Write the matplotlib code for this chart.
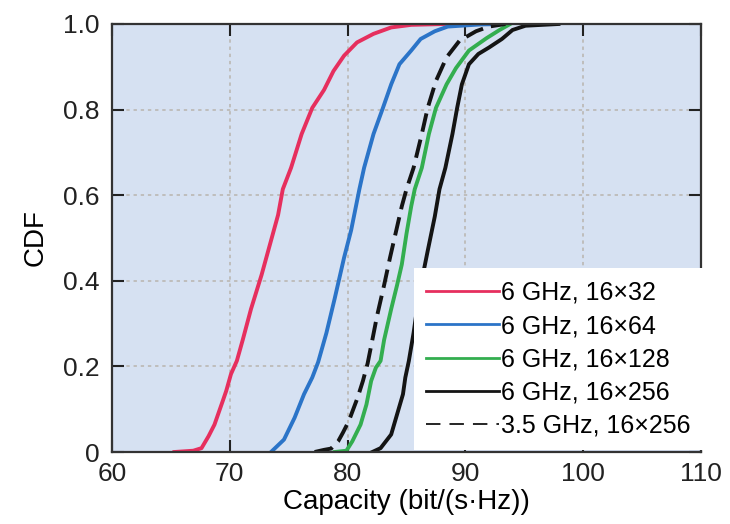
import matplotlib
matplotlib.use("Agg")
import matplotlib.pyplot as plt
from matplotlib.lines import Line2D

plt.rcParams['font.family'] = ['Liberation Sans', 'DejaVu Sans']

# 6 GHz, 16x32
red_x = [65.3, 66.9, 67.6, 68.2, 68.7, 69.4, 69.7, 70.1, 70.6, 71.1, 71.8, 72.7, 73.5, 74.1, 74.5, 75.2, 76.1,
         77.0, 78.0, 78.8, 79.7, 80.8, 82.2, 83.7, 85.4, 88.2]
red_y = [0.0, 0.003, 0.009, 0.037, 0.064, 0.119, 0.143, 0.182, 0.213, 0.262, 0.334, 0.414, 0.494, 0.554, 0.614,
         0.664, 0.743, 0.804, 0.846, 0.89, 0.926, 0.957, 0.977, 0.992, 0.998, 1.0]
# 6 GHz, 16x64
blue_x = [73.5, 74.6, 75.5, 76.3, 77.0, 77.5, 78.2, 78.9, 79.3, 79.7, 80.3, 81.0, 81.4, 82.2, 83.0, 83.7, 84.4,
          85.4, 86.2, 87.4, 88.5, 91.3, 93.5]
blue_y = [0.0, 0.029, 0.08, 0.135, 0.174, 0.21, 0.278, 0.358, 0.406, 0.454, 0.518, 0.614, 0.664, 0.743, 0.804,
          0.859, 0.906, 0.938, 0.965, 0.983, 0.994, 0.999, 1.0]
# 6 GHz, 16x128
green_x = [78.9, 79.9, 80.4, 81.1, 81.6, 82.0, 82.4, 82.8, 83.1, 83.7, 84.2, 84.6, 85.0, 85.4, 85.7, 86.3, 86.9,
           87.5, 88.4, 89.2, 90.3, 91.8, 92.9, 93.8]
green_y = [0.0, 0.003, 0.025, 0.064, 0.111, 0.166, 0.197, 0.213, 0.262, 0.334, 0.39, 0.438, 0.51, 0.574, 0.614,
           0.664, 0.743, 0.804, 0.859, 0.897, 0.938, 0.967, 0.986, 1.0]
# 6 GHz, 16x256
black_x = [82.1, 82.8, 83.7, 84.2, 84.7, 84.9, 85.2, 85.6, 86.1, 86.8, 87.4, 87.8, 88.3, 88.9, 89.3, 89.7, 90.3,
           91.1, 92.0, 93.1, 94.0, 95.1, 97.9]
black_y = [0.0, 0.009, 0.041, 0.088, 0.135, 0.174, 0.213, 0.278, 0.374, 0.47, 0.55, 0.614, 0.664, 0.743, 0.804,
           0.859, 0.906, 0.93, 0.945, 0.965, 0.986, 0.996, 1.0]
# 3.5 GHz, 16x256
dash_x = [77.2, 78.0, 78.6, 79.2, 79.6, 80.1, 80.85, 81.3, 81.7, 82.1, 82.5, 83.1, 83.6, 84.2, 84.6, 85.0, 85.6,
          86.3, 86.8, 87.5, 88.4, 89.5, 90.9, 92.0, 93.4]
dash_y = [0.0, 0.005, 0.008, 0.025, 0.045, 0.072, 0.127, 0.166, 0.207, 0.262, 0.318, 0.39, 0.454, 0.526, 0.574,
          0.614, 0.664, 0.743, 0.804, 0.867, 0.922, 0.961, 0.983, 0.994, 1.0]

labels = ["6 GHz, 16×32", "6 GHz, 16×64", "6 GHz, 16×128", "6 GHz, 16×256", "3.5 GHz, 16×256"]
xticks = [60, 70, 80, 90, 100, 110]
yticks = [0, 0.2, 0.4, 0.6, 0.8, 1.0]
yticklabels = ["0", "0.2", "0.4", "0.6", "0.8", "1.0"]

RED, BLUE, GREEN, BLACK = '#e62f5e', '#2b74c8', '#33ae4f', '#141414'

fig = plt.figure(figsize=(7.3, 5.24), dpi=100)
ax = fig.add_axes([0.1534, 0.1374, 0.8069, 0.8168])
ax.set_facecolor('#d6e1f2')

lw = 2.8
ax.plot(red_x, red_y, color=RED, lw=lw)
ax.plot(blue_x, blue_y, color=BLUE, lw=lw)
ax.plot(green_x, green_y, color=GREEN, lw=lw)
ax.plot(black_x, black_y, color=BLACK, lw=lw)
ax.plot(dash_x, dash_y, color=BLACK, lw=lw, ls=(0, (4.8, 2.1)))

ax.set_xlim(60, 110)
ax.set_ylim(0, 1.0)
ax.set_xticks(xticks)
ax.set_yticks(yticks)
ax.set_yticklabels(yticklabels)
ax.grid(True, color='#b8b4ae', ls=(0, (2.2, 2.5)), lw=1.1)
ax.tick_params(direction='in', length=8.5, width=1.5, top=True, right=True,
               labelsize=19, colors='#222222')
ax.tick_params(axis='y', pad=9)
ax.tick_params(axis='x', pad=7)
for s in ax.spines.values():
    s.set_color('#333333')
    s.set_linewidth(1.6)

ax.set_xlabel('Capacity (bit/(s·Hz))', fontsize=20, labelpad=2)
ax.set_ylabel('CDF', fontsize=20, labelpad=10)

leg_handles = [
    Line2D([], [], color=RED, lw=2.0),
    Line2D([], [], color=BLUE, lw=2.0),
    Line2D([], [], color=GREEN, lw=2.0),
    Line2D([], [], color=BLACK, lw=2.0),
    Line2D([], [], color=BLACK, lw=1.3, ls=(0, (8, 5))),
]
leg = ax.legend(leg_handles, labels, loc='lower right', bbox_to_anchor=(1.004, 0.004),
                frameon=True, fancybox=False, edgecolor='none', facecolor='white',
                framealpha=1.0, fontsize=18, handlelength=2.9, handletextpad=0.1,
                labelspacing=0.37, borderpad=0.5, borderaxespad=0.0)
leg.set_zorder(5)

fig.savefig('out.png', dpi=100)
